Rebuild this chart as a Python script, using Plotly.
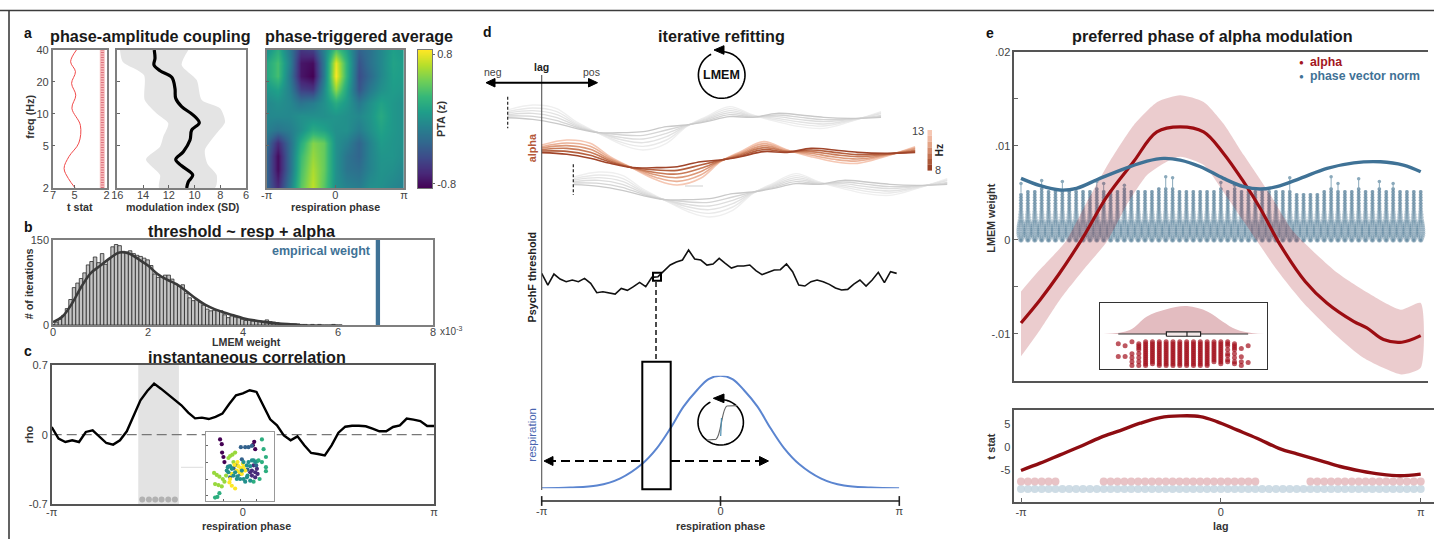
import numpy as np
import plotly.graph_objects as go

W, H = 1434, 539
PI = np.pi
FONT = "Liberation Sans"

# ---------- panel a ----------
t_freq = [40, 31, 25, 19.4, 15, 11.3, 7.8, 5.3, 3.95, 3.06, 2.46, 2]
t_stat = [4.82, 5.36, 4.91, 5.27, 4.88, 5.24, 4.45, 4.6, 5.52, 5.97, 5.57, 4.94]
t_sig_low, t_sig_high, t_sig_mid = 2.18, 2.64, 2.4
freq_ticks = [2, 5, 10, 20, 40]

mi_freq = [40, 33.4, 28.9, 25.5, 22.1, 17.4, 14, 11.7, 9.74, 8.24, 7.03, 5.66, 4.39, 3.72, 3.24, 2.65, 2.29, 2]
mi_mean = [13.13, 13.07, 13.15, 12.68, 11.77, 11.52, 11.46, 11.0, 10.1, 9.63, 10.22, 10.35, 10.87, 11.46, 11.0, 10.14, 10.48, 10.61]
mi_hi_freq = [40, 31, 23.2, 13.5, 10.1, 8.14, 6.08, 4.9, 3.72, 2.65, 2]
mi_hi = [15.79, 15.58, 13.93, 13.87, 12.94, 12.04, 12.43, 12.68, 13.77, 12.68, 12.74]
mi_lo_freq = [2, 2.65, 3.41, 4.56, 6.55, 8.4, 11.3, 13.5, 20.8, 28.9, 40]
mi_lo = [8.41, 8.28, 9.01, 9.19, 8.28, 7.63, 8.02, 9.44, 9.83, 11.0, 10.48]

pta_freq = [40, 30.3, 22.7, 17, 12.7, 9.5, 7.1, 5.3, 4, 3, 2]
pta_z = [
    [0, .2, -.15, -.55, -.5, -.1, .35, .1, -.3, -.2, -.05, .1, .05],
    [.15, .32, -.1, -.7, -.75, -.15, .75, .22, -.38, -.2, -.05, .12, .08],
    [.15, .32, -.15, -.7, -.8, -.15, .8, .22, -.42, -.25, -.05, .1, .08],
    [.05, .12, -.1, -.5, -.55, -.05, .55, .12, -.38, -.15, 0, .08, .05],
    [-.05, 0, -.05, -.18, -.12, 0, .18, .05, -.15, 0, .12, .05, 0],
    [-.05, -.05, -.05, 0, 0, 0, .03, 0, -.05, .03, .17, .05, 0],
    [-.1, -.18, -.12, 0, .18, .12, 0, 0, -.12, 0, .12, .05, 0],
    [-.22, -.6, -.22, .18, .5, .42, 0, -.1, -.28, -.08, .07, .03, 0],
    [-.28, -.75, -.22, .28, .55, .42, 0, -.18, -.28, -.08, .03, .03, -.02],
    [-.28, -.75, -.22, .32, .6, .42, 0, -.18, -.22, -.08, .02, 0, -.06],
    [-.28, -.6, -.12, .38, .65, .38, 0, -.08, -.12, 0, 0, -.06, -.1],
]
pta_scale = [-.8, -.6, -.4, -.2, 0, .2, .4, .6, .8]

# ---------- panel b ----------
hist_bin = 0.0738
hist_counts = [1, 5, 10, 17, 29, 45, 66, 74, 82, 92, 106, 112, 120, 110, 126, 107, 116, 138, 142, 140,
               130, 129, 131, 126, 123, 121, 118, 115, 105, 90, 84, 85, 88, 88, 81, 72, 68, 71, 56, 48,
               43, 45, 40, 35, 28, 25, 26, 26, 25, 18, 13, 16, 14, 13, 10, 8, 9, 7, 8, 7,
               6, 9, 6, 5, 4, 3, 3, 3, 2, 2, 1, 1, 1, 0, 1, 0, 1, 0, 0, 0, 1, 0, 0]
fit_x = [0, .2, .4, .6, .8, 1, 1.2, 1.4, 1.6, 1.8, 2, 2.2, 2.4, 2.6, 2.8, 3, 3.2, 3.4, 3.6, 3.8, 4, 4.4, 4.8, 5.2]
fit_y = [5, 15, 38, 68, 92, 105, 118, 128, 126, 116, 105, 90, 80, 72, 60, 47, 36, 28, 22, 17, 12, 6, 2, .5]
empirical_weight = 6.84

# ---------- panel c ----------
rho = [.077, -.040, -.074, -.057, -.074, .027, .044, -.023, -.084, -.100, -.057, .034, .184, .345, .439,
       .513, .462, .405, .355, .295, .221, .164, .171, .157, .178, .211, .308, .395, .415, .446, .429,
       .295, .154, .094, -.007, -.057, -.017, -.107, -.184, -.194, -.208, -.107, .020, .080, .090, .090,
       .084, .060, .034, .034, .077, .094, .161, .151, .137, .087, .087]
cluster_start, cluster_end = -1.719, -1.051
cluster_dots = [-1.653, -1.544, -1.44, -1.336, -1.226, -1.117]
cluster_y = -.653

inset_x = [60, 65, 66, 70, 73, 162, 158, 165, 155, 165, 172, 165, 155, 170, 160, 150,
           122, 135, 145, 155, 85, 100, 90, 108, 125, 142, 120, 168,
           185, 190, 197, 185, 175, 197, 197, 170, 45, 52, 58, 160, 178,
           90, 97, 105, 85, 42, 50, 58, 68, 73, 45, 55, 65, 78, 100,
           112, 115, 122, 130, 110, 95, 90, 88, 95, 105, 118, 125, 135, 103, 128,
           95, 85, 80, 100, 110, 120, 130, 140, 150, 135, 145, 155, 165, 140, 130, 90, 112, 150, 160, 142, 125, 105, 83]
inset_y = [33, 47, 72, 85, 100, 40, 50, 62, 125, 130, 135, 145, 140, 120, 110, 130,
           56, 56, 56, 52, 113, 118, 145, 108, 92, 122, 135, 110,
           33, 62, 85, 100, 95, 115, 127, 98, 205, 203, 192, 158, 150,
           82, 78, 72, 88, 132, 138, 143, 150, 158, 165, 168, 172, 140, 100,
           100, 112, 118, 115, 125, 135, 150, 160, 170, 178, 130, 135, 125, 108, 105,
           120, 130, 125, 140, 150, 150, 150, 145, 155, 158, 100, 95, 100, 110, 100, 112, 142, 112, 95, 140, 125, 130, 115]
inset_c = [-.8] * 8 + [-.6] * 8 + [-.3] * 12 + [.2] * 13 + [.55] * 14 + [.8] * 15 + [0] * 23

# ---------- panel d ----------
alpha_phase = [-PI, -2.70, -2.29, -1.94, -1.54, -1.12, -.76, -.35, 0, .35, .76, 1.17, 1.59, 2.0, 2.41, 2.88, 3.42]
alpha_8hz = [1.7, 1.2, 0, -1.5, -2.8, -2.8, -2.5, -1, -.5, .5, 2, 1.8, 3, 2.5, 1.8, 1.5, 1.8]
alpha_9hz = [2.2, 2.1, .9, -1.1, -2.8, -3.5, -3.6, -2, -.6, .8, 2.6, 1.9, 2.5, 1.8, 1.1, 1.3, 2.1]
alpha_10hz = [2.6, 3, 1.8, -.7, -2.9, -4.3, -4.7, -3, -.7, 1.1, 3.2, 2.1, 2, 1.1, .5, 1.1, 2.4]
alpha_11hz = [3.1, 3.8, 2.7, -.3, -2.9, -5, -5.8, -4, -.8, 1.4, 3.8, 2.2, 1.5, .4, -.2, .9, 2.9]
alpha_12hz = [3.5, 4.6, 3.6, .1, -3, -5.8, -6.9, -5, -.9, 1.7, 4.4, 2.4, 1, -.3, -.8, .7, 3.2]
alpha_13hz = [4, 5.5, 4.5, .5, -3, -6.5, -8, -6, -1, 2, 5, 2.5, .5, -1, -1.5, .5, 3.5]
alpha_lines = [alpha_13hz, alpha_12hz, alpha_11hz, alpha_10hz, alpha_9hz, alpha_8hz]
alpha_colors = ["#f5c7b3", "#eab096", "#dc9878", "#c87a58", "#b5603f", "#a0452a"]
gray_colors = ["#efefef", "#e9e9e9", "#e3e3e3", "#dddddd", "#d5d5d5", "#c9c9c9"]
lag_copies = [(-.599, 10.5), (.564, -9.6)]

threshold = [.60, .25, .58, .43, .35, .40, .35, .45, .30, .02, .05, .02, -.02, .15, .09, .20, .33, .20, .48, .50,
             .67, .85, .94, 1.0, 1.30, 1.03, 1.0, .85, .88, 1.05, .90, .76, .82, .82, .85, .68, .56, .64, .70, .71,
             .88, .65, .25, .22, .35, .40, .35, .27, .16, .10, .12, .28, .40, .22, .40, .63, .32, .65, .60]
thr_end_phase = 3.095
thr_marker = (-1.116, .5)

resp_phase = [-PI, -2.64, -2.17, -1.76, -1.38, -1.12, -.88, -.65, -.41, -.21, 0, .21, .41, .65, .88, 1.12, 1.38, 1.76, 2.17, 2.64, PI]
resp_amp = [0, .006, .024, .089, .216, .355, .533, .725, .873, .970, 1, .970, .873, .725, .533, .355, .216, .089, .024, .006, 0]

# ---------- panel e ----------
lag_a = [-PI, -2.84, -2.552, -2.159, -1.792, -1.373, -1.006, -.639, -.272, .042, .356, .618, .933, 1.326, 1.666, 2.086, 2.295, 2.557, 2.845, PI]
alpha_w = [-.00883, -.00636, -.00371, .00035, .00459, .0083, .01148, .01201, .01148, .00919, .00618, .00336, -.00053, -.00442,
           -.00671, -.00866, -.00936, -.0106, -.01088, -.01018]
up_lag = [-PI, -2.89, -2.44, -2.13, -1.75, -1.37, -1.0, -.64, -.27, .04, .36, .78, 1.14, 1.83, 2.36, 2.83, PI]
up_w = [-.00548, -.0035, -.00018, .00371, .0083, .01219, .01466, .01537, .01466, .01237, .00901, .00477, .00088, -.0035, -.00583, -.00742, -.00671]
low_lag = [-PI, -2.84, -2.53, -2.16, -1.79, -1.48, -1.16, -.85, -.64, -.27, .04, .36, .88, 1.30, 1.83, 2.24, 2.84, PI]
low_w = [-.01237, -.00954, -.00636, -.00318, -.00018, .00371, .00689, .0083, .00883, .00795, .00512, .00194, -.00318, -.00671, -.01025, -.01254, -.01431, -.0136]
norm_lag = [-PI, -2.84, -2.53, -2.27, -1.90, -1.48, -1.16, -.90, -.64, -.32, .04, .36, .62, .88, 1.25, 1.67, 2.09, 2.51, 2.87, PI]
norm_w = [.00654, .00576, .0053, .00548, .00654, .00766, .00837, .00866, .00848, .00777, .00654, .00565, .00541, .00565, .00654, .0076, .00819, .0083, .00795, .00724]

n_lags = 59
violin_top = [.0050, .0051, .0053, .0055, .0052, .0052, .0053, .0051, .0052, .0051,
              .0052, .0054, .0053, .0052, .0052, .0054, .0052, .0051, .0053, .0053,
              .0054, .0054, .0054, .0053, .0052, .0052, .0051, .0051, .0051, .0054,
              .0052, .0054, .0053, .0052, .0053, .0052, .0052, .0051, .0052, .0053,
              .0050, .0050, .0049, .0050, .0052, .0054, .0052, .0051, .0052, .0054,
              .0051, .0051, .0054, .0053, .0054, .0053, .0052, .0051, .0052]
violin_levels = [-.0001, .0001, .0003, .0005, .0007, .0009, .0011, .0013, .0015, .0017, .0019, .0021, .0024, .0027,
                 .003, .0033, .0036, .0039, .0042, .0045, .0048, .0051, .0054]
violin_halfw = [.012, .025, .035, .042, .045, .045, .045, .042, .04, .035, .03, .025, .02, .018,
                .012, .008, .008, .006, .006, .006, .004, .003, .002]
out_idx = [0, 3, 6, 11, 12, 15, 21, 22, 29, 31, 39, 45, 46, 49, 52, 54]
out_val = [.0060, .0063, .0062, .0062, .0060, .0058, .0067, .0066, .0061, .0058, .0066, .0067, .0060, .0065, .0062, .0060]

t_lag = [-PI, -2.84, -2.526, -2.211, -1.897, -1.583, -1.268, -.954, -.639, -.325, -.063, .252, .566, .933, 1.195, 1.562, 1.876, 2.19, 2.505, 2.819, PI]
t_vals = [-5.07, -3.48, -1.67, .14, 2.1, 3.62, 5.22, 6.45, 6.81, 6.67, 5.58, 3.77, 1.96, -.36, -1.45, -2.9, -4.2, -5.14, -5.87, -6.23, -5.87]
sig_alpha_idx = list(range(0, 6)) + list(range(12, 35)) + list(range(42, 59))
sig_alpha_y, sig_norm_y = -7.46, -9.13

rain_full = [0, .5, 1, 1.5, 2, 2.5, 3, 3.5, 4, 4.5, 5, 5.5, 6]
rain_rows = [[5.5, 2.3], [5, 2.3], [6, 3, 2, 1, 0], [5.5, 5, 4.5, 4, 3, 2, 1, 0], rain_full, rain_full[1:], rain_full, rain_full,
             rain_full, rain_full, rain_full, rain_full, rain_full, rain_full, rain_full[2:], rain_full[1:],
             [6, 5.5, 5, 4, 3, 2.5, 1.5, 1], [5.5, 5, 4.5, 4, 3, 2, 1, .5], [4.3, 2.2, 1, 0], [5, .8]]
rain_den_x = [-2.18, 1.7, 4.13, 7.04, 10.05, 13.1, 15.3, 17.2, 19.7, 21.4]
rain_den_y = [7.9, 8.9, 12.25, 14.1, 14.9, 13.5, 11, 9.1, 8.1, 7.9]
rain_q = (0, 7.04, 10.05, 12.04, 19)
rain_base = 7.9

# ---------- helpers ----------
def X(p): return p / W
def Y(p): return 1 - p / H

layout = dict(width=W, height=H, margin=dict(l=0, r=0, t=0, b=0, pad=0, autoexpand=False), autosize=False,
              paper_bgcolor="white", plot_bgcolor="rgba(0,0,0,0)", showlegend=False,
              font=dict(family=FONT, size=11, color="#444"), hovermode=False)
traces, shapes, notes = [], [], []
SP = "#7f7f7f"

def axes(n, box, xo=None, yo=None):
    x0, y0, x1, y1 = box
    s = "" if n == 1 else str(n)
    base = dict(showgrid=False, zeroline=False, ticks="", showticklabels=False, ticklen=3, tickcolor="#666",
                tickfont=dict(family=FONT, size=11, color="#444"))
    layout["xaxis" + s] = {**base, "domain": [x0 / W, x1 / W], "anchor": "y" + s, **(xo or {})}
    layout["yaxis" + s] = {**base, "domain": [1 - y1 / H, 1 - y0 / H], "anchor": "x" + s, **(yo or {})}

def tr(n, **k):
    s = "" if n == 1 else str(n)
    traces.append(go.Scatter(xaxis="x" + s, yaxis="y" + s, hoverinfo="skip", showlegend=False, **k))

def text(px, py, s, size=10.5, bold=True, color="#222", angle=0, anchor="center"):
    notes.append(dict(xref="paper", yref="paper", x=X(px), y=Y(py), text=f"<b>{s}</b>" if bold else s,
                      showarrow=False, xanchor=anchor, yanchor="middle", textangle=angle,
                      font=dict(family=FONT, size=size, color=color)))

def pline(x0, y0, x1, y1, color="#000", w=1.0, dash="solid"):
    shapes.append(dict(type="line", xref="paper", yref="paper", x0=X(x0), y0=Y(y0), x1=X(x1), y1=Y(y1),
                       line=dict(color=color, width=w, dash=dash), layer="above"))

def prect(x0, y0, x1, y1, line="#000", w=2, fill="rgba(0,0,0,0)"):
    shapes.append(dict(type="rect", xref="paper", yref="paper", x0=X(x0), y0=Y(y0), x1=X(x1), y1=Y(y1),
                       line=dict(color=line, width=w), fillcolor=fill, layer="above"))

def ppoly(pts, color="#000", w=1.5, fill=None):
    d = "M " + " L ".join(f"{X(a):.5f} {Y(b):.5f}" for a, b in pts) + (" Z" if fill else "")
    shapes.append(dict(type="path", xref="paper", yref="paper", path=d, layer="above",
                       line=dict(color=color, width=w), fillcolor=fill or "rgba(0,0,0,0)"))

def cycle_icon(cx, cy, r, tip, b1, b2):
    ang = np.radians(np.linspace(85, -243, 70))
    ppoly([(cx + r * np.cos(a), cy - r * np.sin(a)) for a in ang], w=1.6)
    ppoly([tip, b1, b2], w=1, fill="#000")

# ---------- frame ----------
pline(0, 10.5, W, 10.5, "#3c3c3c", 1.6)
pline(9, 10, 9, H, "#3c3c3c", 1.6)

# ---------- a ----------
yf = dict(type="log", range=[np.log10(2), np.log10(40)], showline=True, mirror=True, linecolor=SP, linewidth=1.5,
          tickvals=freq_ticks, ticktext=[str(v) for v in freq_ticks], ticks="inside")
axes(1, (52.7, 50, 107, 188), dict(range=[7.03, 1.97], showline=True, mirror=True, linecolor=SP, linewidth=1.5,
                                   tickvals=[7, 5, 2], ticktext=["7", "5", "2"], showticklabels=True, ticks="inside", ticklabelstandoff=-4),
     {**yf, "showticklabels": True})
shapes.append(dict(type="rect", xref="x", yref="y domain", x0=t_sig_low, x1=t_sig_high, y0=0, y1=1,
                   fillcolor="#f6bcbc", line_width=0, layer="below"))
tr(1, x=[t_sig_mid, t_sig_mid], y=[2, 40], mode="lines", line=dict(color="#e0707c", width=3, dash="1px,1.5px"))
tr(1, x=t_stat, y=t_freq, mode="lines", line=dict(color="#f04a4a", width=1, shape="spline"))

axes(2, (117.3, 50, 246, 188), dict(range=[16, 6], showline=True, mirror=True, linecolor=SP, linewidth=1.5,
                                    tickvals=[16, 14, 12, 10, 8, 6], ticktext=["16", "14", "12", "10", "8", "6"],
                                    showticklabels=True, ticks="inside", ticklabelstandoff=-4), yf)
tr(2, x=mi_hi + mi_lo, y=mi_hi_freq + mi_lo_freq, mode="lines", fill="toself", fillcolor="#e4e4e4",
   line=dict(width=0, shape="spline", smoothing=.7))
tr(2, x=mi_mean, y=mi_freq, mode="lines", line=dict(color="#000", width=3.2, shape="spline"))

axes(3, (266.7, 50, 404, 188), dict(range=[-PI, PI], showline=True, mirror=True, linecolor=SP, linewidth=1.5,
                                    tickvals=[-PI, 0, PI], ticktext=["-π", "0", "π"], showticklabels=True, ticks="inside", ticklabelstandoff=-4), yf)
traces.append(go.Heatmap(xaxis="x3", yaxis="y3", z=pta_z, x=np.linspace(-PI, PI, 13), y=pta_freq, colorscale="Viridis",
                         zmin=-.8, zmax=.8, zsmooth="best", hoverinfo="skip", showscale=False))
axes(14, (418, 50, 432, 188), dict(range=[0, 1], showline=True, mirror=True, linecolor="#777", linewidth=1),
     dict(range=[-.8, .8], side="right", showline=True, mirror=True, linecolor="#777", linewidth=1, showticklabels=True,
          tickvals=[.75, -.75], ticktext=["0.8", "-0.8"], ticks="outside", ticklen=2))
traces.append(go.Heatmap(xaxis="x14", yaxis="y14", z=[[v, v] for v in pta_scale], x=[0, 1], y=pta_scale, colorscale="Viridis",
                         zmin=-.8, zmax=.8, zsmooth="best", hoverinfo="skip", showscale=False))

# ---------- b ----------
hx = [i * hist_bin for i in range(len(hist_counts))]
axes(4, (53, 240, 433, 325), dict(range=[0, 8], showline=True, mirror=True, linecolor=SP, linewidth=1.5,
                                  tickvals=[0, 2, 4, 6, 8], ticktext=["0", "2", "4", "6", "8"], showticklabels=True, ticklabelstandoff=-4),
     dict(range=[0, 150], showline=True, mirror=True, linecolor=SP, linewidth=1.5, tickvals=[0, 150],
          ticktext=["0", "150"], showticklabels=True))
traces.append(go.Bar(xaxis="x4", yaxis="y4", x=hx, y=hist_counts, width=hist_bin, hoverinfo="skip", showlegend=False,
                     marker=dict(color="#c4c4c4", line=dict(color="#2a2a2a", width=.8))))
tr(4, x=fit_x, y=fit_y, mode="lines", line=dict(color="#3a3a3a", width=2.6, shape="spline"))
shapes.append(dict(type="line", xref="x4", yref="y4 domain", x0=empirical_weight, x1=empirical_weight, y0=0, y1=1,
                   line=dict(color="#3f7296", width=4.3), layer="above"))

# ---------- c ----------
C2 = "#555"
axes(5, (51.7, 365, 434, 504.3), dict(range=[-PI, PI], showline=True, mirror=True, linecolor=C2, linewidth=1.5,
                                      tickvals=[-PI, 0, PI], ticktext=["-π", "0", "π"], showticklabels=True, ticklabelstandoff=-3),
     dict(range=[-.7, .7], showline=True, mirror=True, linecolor=C2, linewidth=1.5, tickvals=[-.7, 0, .7],
          ticktext=["-0.7", "0", "0.7"], showticklabels=True))
shapes.append(dict(type="rect", xref="x5", yref="y5 domain", x0=cluster_start, x1=cluster_end, y0=0, y1=1,
                   fillcolor="#e3e3e3", line_width=0, layer="below"))
shapes.append(dict(type="line", xref="x5 domain", yref="y5", x0=0, x1=1, y0=0, y1=0,
                   line=dict(color="#777", width=1.2, dash="10px,5px"), layer="below"))
tr(5, x=np.linspace(-PI, PI, len(rho)), y=rho, mode="lines", line=dict(color="#000", width=2.4))
tr(5, x=cluster_dots, y=[cluster_y] * len(cluster_dots), mode="markers", marker=dict(color="#b2b2b2", size=6))
pline(181, 467.3, 203.3, 467.3, "#dddddd", 1)

axes(6, (205.7, 432.3, 274.3, 501), dict(range=[17, 222], showline=True, mirror=True, linecolor="#999", linewidth=1,
                                         tickvals=[70, 120, 170], ticks="inside", ticklen=2),
     dict(range=[215, 12], showline=True, mirror=True, linecolor="#999", linewidth=1,
          tickvals=[50, 100, 150, 200], ticks="inside", ticklen=2))
shapes.append(dict(type="rect", xref="x6", yref="y6", x0=17, x1=222, y0=215, y1=12, fillcolor="white", line_width=0, layer="below"))
tr(6, x=inset_x, y=inset_y, mode="markers", marker=dict(color=inset_c, colorscale="Viridis", cmin=-.8, cmax=.8, size=4.2))

# ---------- d ----------
k = PI / 178.8
axes(7, (470, 70, 950, 220), dict(range=[(470 - 720.5) * k, (950 - 720.5) * k]), dict(range=[-18.5, 26.5]))
for dx, dy in lag_copies:
    for vals, c in zip(alpha_lines, gray_colors):
        tr(7, x=[p + dx for p in alpha_phase], y=[v + dy for v in vals], mode="lines", line=dict(color=c, width=1.4, shape="spline"))
for vals, c in zip(alpha_lines, alpha_colors):
    tr(7, x=alpha_phase, y=vals, mode="lines", line=dict(color=c, width=1.6, shape="spline"))

axes(8, (541.7, 246.7, 899.3, 296.7), dict(range=[-PI, PI]), dict(range=[-.1, 1.4]))
tr(8, x=np.linspace(-PI, thr_end_phase, len(threshold)), y=threshold, mode="lines", line=dict(color="#111", width=1.6))
tr(8, x=[thr_marker[0]], y=[thr_marker[1]], mode="markers",
   marker=dict(symbol="square-open", size=8, color="#000", line=dict(width=2, color="#000")))

axes(9, (541.7, 375.7, 899.3, 488.3), dict(range=[-PI, PI]), dict(range=[0, 1]))
tr(9, x=resp_phase, y=resp_amp, mode="lines", line=dict(color="#5b85d0", width=2, shape="spline"), cliponaxis=False)

axes(10, (541.7, 497, 899.3, 505), dict(range=[-PI, PI], tickvals=[-PI, 0, PI], ticktext=["-π", "0", "π"], showticklabels=True, ticklabelstandoff=-2),
     dict(range=[-1, 1.0]))
tr(10, x=[-PI, PI], y=[0, 0], mode="lines", line=dict(color="#222", width=1.3), cliponaxis=False)
tr(10, x=[-PI, 0, PI], y=[0, 0, 0], mode="markers", cliponaxis=False,
   marker=dict(symbol="line-ns", size=7, line=dict(color="#222", width=1.6)))

pline(541.7, 75, 541.7, 490, "#555", 1.1)
pline(488, 82.7, 596, 82.7, "#000", 2)
ppoly([(486, 82.7), (495, 78.5), (495, 87)], w=1, fill="#000")
ppoly([(597.5, 82.7), (588.5, 78.5), (588.5, 87)], w=1, fill="#000")
pline(507.7, 96.7, 507.7, 128.3, "#222", 1.2, "3px,2px")
pline(573.3, 164.3, 573.3, 195, "#222", 1.2, "3px,2px")
pline(685, 186, 703, 186, "#cfcfcf", 1)
pline(656, 282, 656, 361, "#111", 1.5, "5px,3px")
prect(642.3, 361.7, 670.7, 489.3)
pline(547, 461, 642, 461, "#000", 2.2, "9px,5px")
pline(671, 461, 762, 461, "#000", 2.2, "9px,5px")
ppoly([(544, 461), (553, 456.5), (553, 465.5)], w=1, fill="#000")
ppoly([(768.5, 461), (759.5, 456.5), (759.5, 465.5)], w=1, fill="#000")
cycle_icon(721.7, 75, 23.3, (714, 50), (724, 45.7), (724, 54.3))
cycle_icon(720.7, 422.3, 22.7, (713.3, 398.3), (724, 394), (724, 402.7))
shapes.append(dict(type="path", xref="paper", yref="paper", layer="above", line=dict(color="#666", width=1.2),
                   path=f"M {X(706.7):.5f} {Y(440):.5f} L {X(716):.5f} {Y(439.3):.5f} C {X(721):.5f} {Y(437):.5f} {X(722):.5f} {Y(407):.5f} {X(727):.5f} {Y(406):.5f} L {X(737):.5f} {Y(405.7):.5f}"))
pline(721.5, 418, 720.7, 436, "#4f8fb0", 1.2)
for i, c in enumerate(["#f5c7b3", "#efb8a1", "#e3a486", "#d48b6c", "#c27352", "#ae5a3a", "#9c4327"]):
    shapes.append(dict(type="rect", xref="paper", yref="paper", x0=X(927.5), x1=X(932), y0=Y(130 + i * 5.8), y1=Y(130 + (i + 1) * 5.8),
                       line_width=0, fillcolor=c, layer="above"))

# ---------- e ----------
lags = np.linspace(-PI, PI, n_lags)
ke = PI / 199.85
axes(11, (1014.3, 51.7, 1428, 381),
     dict(range=[-PI - 6.7 * ke, PI + 7.3 * ke], showline=True, mirror=True, linecolor=C2, linewidth=1.5),
     dict(range=[-.015, .02], showline=True, linecolor=C2, linewidth=1.5, ticks="inside", ticklen=4,
          tickvals=[.02, .01, 0, -.01], ticktext=[".02", ".01", "0", "-.01"], showticklabels=True,
          minor=dict(tickvals=[.015, -.005], ticks="inside", ticklen=4, tickcolor="#666")))
vx, vy = [], []
for i, l in enumerate(lags):
    for lev, hw in zip(violin_levels, violin_halfw):
        if lev <= violin_top[i]:
            vx += [l - hw, l, l + hw]
            vy += [lev, lev, lev]
tr(11, x=vx, y=vy, mode="markers", marker=dict(color="#557f98", size=3.6, opacity=.38))
wx, wy = [], []
for i, v in zip(out_idx, out_val):
    wx += [lags[i], lags[i], None]
    wy += [violin_top[i], v, None]
tr(11, x=wx, y=wy, mode="lines", line=dict(color="#8aa9bb", width=1))
tr(11, x=[lags[i] for i in out_idx], y=out_val, mode="markers", marker=dict(color="#8aa9bb", size=3.5))
tr(11, x=up_lag + low_lag[::-1], y=up_w + low_w[::-1], mode="lines", fill="toself", fillcolor="rgba(163,22,33,.22)",
   line=dict(width=0, shape="spline", smoothing=.6))
tr(11, x=lag_a, y=alpha_w, mode="lines", line=dict(color="#9c0d12", width=3.2, shape="spline"))
tr(11, x=norm_lag, y=norm_w, mode="lines", line=dict(color="#3f7296", width=3.4, shape="spline"))

axes(12, (1014.3, 410, 1434, 502.3),
     dict(range=[-PI - 6.7 * ke, PI + 13.3 * ke], showline=True, mirror=True, linecolor=C2, linewidth=1.5, ticks="inside", ticklen=5,
          tickvals=[-PI, 0, PI], ticktext=["-π", "0", "π"], showticklabels=True, ticklabelstandoff=-1),
     dict(range=[-12, 8.1], showline=True, linecolor=C2, linewidth=1.5, tickvals=[5, 0, -5], ticktext=["5", "0", "-5"], showticklabels=True))
tr(12, x=lags, y=[sig_norm_y] * n_lags, mode="markers", marker=dict(color="#c5d6e1", size=8, opacity=.85))
tr(12, x=[lags[i] for i in sig_alpha_idx], y=[sig_alpha_y] * len(sig_alpha_idx), mode="markers",
   marker=dict(color="#e6bcc0", size=8, opacity=.9))
tr(12, x=t_lag, y=t_vals, mode="lines", line=dict(color="#8e0d12", width=3.4, shape="spline"))

axes(13, (1100.3, 303, 1267.3, 369.3), dict(range=[-2.63, 21.8], showline=True, mirror=True, linecolor="#333", linewidth=1.3),
     dict(range=[-.92, 15.67], showline=True, mirror=True, linecolor="#333", linewidth=1.3))
shapes.append(dict(type="rect", xref="x13", yref="y13", x0=-2.63, x1=21.8, y0=-.92, y1=15.67, fillcolor="white", line_width=0, layer="below"))
tr(13, x=rain_den_x, y=rain_den_y, mode="lines", fill="toself", fillcolor="#e3bcc0", line=dict(width=0, shape="spline"))
tr(13, x=[rain_q[0], rain_q[4]], y=[rain_base, rain_base], mode="lines", line=dict(color="#333", width=1.1))
tr(13, x=[rain_q[1], rain_q[3], rain_q[3], rain_q[1], rain_q[1], None, rain_q[2], rain_q[2]],
   y=[rain_base - .55, rain_base - .55, rain_base + .55, rain_base + .55, rain_base - .55, None, rain_base - .55, rain_base + .55],
   mode="lines", fill="toself", fillcolor="#f4e8e8", line=dict(color="#222", width=1.2))
rx, ry = [], []
for i, rows in enumerate(rain_rows):
    rx += [i] * len(rows)
    ry += rows
tr(13, x=rx, y=ry, mode="markers", marker=dict(color="#a3101c", size=5, opacity=.7, line=dict(width=0)))

# ---------- text ----------
T = 16.2
for px_, py_, s in [(150, 36, "phase-amplitude coupling"), (359, 36, "phase-triggered average"),
                    (241.7, 230.7, "threshold ~ resp + alpha"), (246.7, 357.3, "instantaneous correlation"),
                    (721.7, 36, "iterative refitting"), (1212.3, 36, "preferred phase of alpha modulation")]:
    text(px_, py_, s, T, color="#1a1a1a")
for px_, py_, s in [(28.3, 33, "a"), (28.3, 227, "b"), (28.3, 351, "c"), (487, 32, "d"), (990, 32.7, "e")]:
    text(px_, py_, s, 14, color="#111")
for px_, py_, s in [(80, 206.5, "t stat"), (183, 206.5, "modulation index (SD)"), (335, 206.5, "respiration phase"),
                    (246.7, 342, "LMEM weight"), (246, 525.7, "respiration phase"), (720.7, 525.7, "respiration phase"),
                    (1220.7, 525.7, "lag")]:
    text(px_, py_, s, 10.7, color="#333")
text(30, 116.7, "freq (Hz)", 10.8, color="#333", angle=-90)
text(29.3, 284, "# of iterations", 10.8, color="#333", angle=-90)
text(29.3, 434, "rho", 10.8, color="#333", angle=-90)
text(441.7, 119.3, "PTA (z)", 10.8, color="#333", angle=-90)
text(990.7, 218, "LMEM weight", 10.8, color="#333", angle=-90)
text(990.7, 446.7, "t stat", 10.8, color="#333", angle=-90)
text(531.5, 277, "PsychF threshold", 10.8, color="#222", angle=-90)
text(532, 148.3, "alpha", 10.8, color="#b5593a", angle=-90)
text(531.7, 435, "respiration", 11.5, False, color="#4a66b0", angle=-90)
text(541.7, 66.7, "lag", 10.5, color="#222")
text(492.7, 71.7, "neg", 10.5, False, color="#444")
text(591, 71.7, "pos", 10.5, False, color="#444")
text(721.7, 75, "LMEM", 12.5, color="#111")
text(321.7, 251, "empirical weight", 12.5, color="#3f7296")
text(917.7, 130.7, "13", 11, False, color="#444")
text(937.5, 170, "8", 11, False, color="#444")
text(938.5, 150, "Hz", 10.5, color="#222", angle=-90)
text(438, 331, "x10<sup>-3</sup>", 10, False, color="#444", anchor="left")
text(1301, 62, "●", 8, False, color="#a31621")
text(1301, 76, "●", 8, False, color="#3f7296")
text(1308, 61.7, "alpha", 12.3, color="#a31621", anchor="left")
text(1308, 75.7, "phase vector norm", 12.3, color="#3f7296", anchor="left")

layout["shapes"] = shapes
layout["annotations"] = notes
fig = go.Figure(data=traces, layout=layout)
fig.write_html("out.html", config={"displayModeBar": False},
               post_script="document.body.style.margin='0';document.body.style.overflow='hidden';")
